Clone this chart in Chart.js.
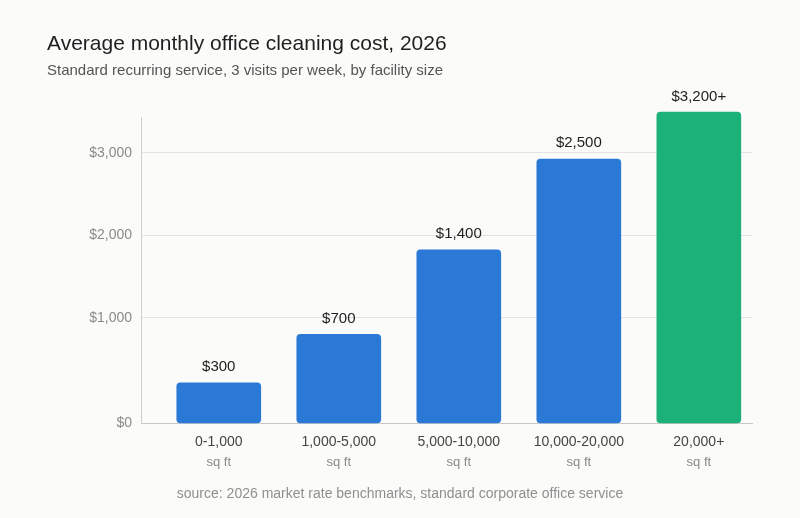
<!DOCTYPE html>
<html>
<head>
<meta charset="utf-8">
<title>Average monthly office cleaning cost, 2026</title>
<script src="https://cdn.jsdelivr.net/npm/chart.js@4.4.1/dist/chart.umd.min.js"></script>
<style>
  html, body { margin: 0; padding: 0; background: #fbfbf9; }
  #wrap { width: 800px; height: 518px; }
</style>
</head>
<body>
<div id="wrap"><canvas id="costChart" width="800" height="518"></canvas></div>
<script>
// facility size buckets
const sizeLabels = ['0-1,000', '1,000-5,000', '5,000-10,000', '10,000-20,000', '20,000+'];
const sizeUnits = ['sq ft', 'sq ft', 'sq ft', 'sq ft', 'sq ft'];

// bar heights as read against the y axis, and the text printed over each bar
const barValues = [212, 799, 1824, 2924, 3493];
const valueLabels = ['$300', '$700', '$1,400', '$2,500', '$3,200+'];
const barColors = ['#2a79d6', '#2a79d6', '#2a79d6', '#2a79d6', '#1db17a'];

// y axis: the floor of the axis is labelled $0 in the reference
const yFloor = -280;
const yTop = 3429;
const yTickValues = [yFloor, 1000, 2000, 3000];
const yTickLabels = ['$0', '$1,000', '$2,000', '$3,000'];

const fontFamily = "'Liberation Sans', Arial, Helvetica, sans-serif";

// value labels above bars
const valueLabelPlugin = {
    id: 'valueLabels',
    afterDatasetsDraw(chart) {
        const ctx = chart.ctx;
        const meta = chart.getDatasetMeta(0);
        ctx.save();
        ctx.font = '15px ' + fontFamily;
        ctx.fillStyle = '#222222';
        ctx.textAlign = 'center';
        ctx.textBaseline = 'alphabetic';
        meta.data.forEach((bar, i) => {
            ctx.fillText(valueLabels[i], bar.x, bar.y - 11.5);
        });
        ctx.restore();
    }
};

// source note at the bottom
const sourcePlugin = {
    id: 'sourceNote',
    afterDraw(chart) {
        const ctx = chart.ctx;
        ctx.save();
        ctx.font = '14px ' + fontFamily;
        ctx.fillStyle = '#8f8f8f';
        ctx.textAlign = 'center';
        ctx.textBaseline = 'middle';
        ctx.fillText('source: 2026 market rate benchmarks, standard corporate office service', 400, 494);
        ctx.restore();
    }
};

const xIdx = sizeLabels.map((_, i) => i);

const costChart = new Chart(document.getElementById('costChart').getContext('2d'), {
    type: 'bar',
    data: {
        datasets: [{
            data: barValues.map((v, i) => ({ x: i, y: v })),
            backgroundColor: barColors,
            base: yFloor,
            barThickness: 84,
            borderRadius: 4,
            borderSkipped: false,
            clip: false
        }]
    },
    options: {
        responsive: false,
        animation: false,
        layout: {
            padding: { left: 47, right: 48, top: 0, bottom: 44.7 }
        },
        plugins: {
            legend: { display: false },
            tooltip: { enabled: false },
            title: {
                display: true,
                align: 'start',
                text: 'Average monthly office cleaning cost, 2026',
                color: '#1f1f1f',
                font: { family: fontFamily, size: 21, weight: 'normal' },
                padding: { top: 32, bottom: 0 }
            },
            subtitle: {
                display: true,
                align: 'start',
                text: 'Standard recurring service, 3 visits per week, by facility size',
                color: '#555555',
                font: { family: fontFamily, size: 15 },
                padding: { top: 4.5, bottom: 37.6 }
            }
        },
        scales: {
            x: {
                type: 'linear',
                position: 'bottom',
                offset: false,
                min: -0.648,
                max: 4.443,
                afterBuildTicks: (s) => { s.ticks = xIdx.map(v => ({ value: v })); },
                afterFit: (s) => { s.height = 30; },
                ticks: {
                    color: '#444444',
                    font: { family: fontFamily, size: 14 },
                    padding: 10.3,
                    maxRotation: 0,
                    callback: (v) => sizeLabels[v]
                },
                grid: { display: false, drawTicks: false },
                border: { color: '#c9c9c9', width: 1 }
            },
            x2: {
                type: 'linear',
                position: 'bottom',
                offset: false,
                min: -0.648,
                max: 4.443,
                afterBuildTicks: (s) => { s.ticks = xIdx.map(v => ({ value: v })); },
                afterFit: (s) => { s.height = 20; },
                ticks: {
                    color: '#8a8a8a',
                    font: { family: fontFamily, size: 13 },
                    padding: 0.9,
                    maxRotation: 0,
                    callback: (v) => sizeUnits[v]
                },
                grid: { display: false, drawTicks: false },
                border: { display: false }
            },
            y: {
                type: 'linear',
                min: yFloor,
                max: yTop,
                afterBuildTicks: (s) => { s.ticks = yTickValues.map(v => ({ value: v })); },
                afterFit: (s) => { s.width = 94; },
                ticks: {
                    color: '#8a8a8a',
                    font: { family: fontFamily, size: 14 },
                    padding: 9,
                    callback: (v) => yTickLabels[yTickValues.indexOf(v)]
                },
                grid: {
                    drawTicks: false,
                    color: (c) => (c.tick && c.tick.value === yFloor) ? 'rgba(0,0,0,0)' : '#e4e4e4'
                },
                border: { color: '#cfcfcf', width: 1 }
            }
        }
    },
    plugins: [valueLabelPlugin, sourcePlugin]
});
</script>
</body>
</html>
